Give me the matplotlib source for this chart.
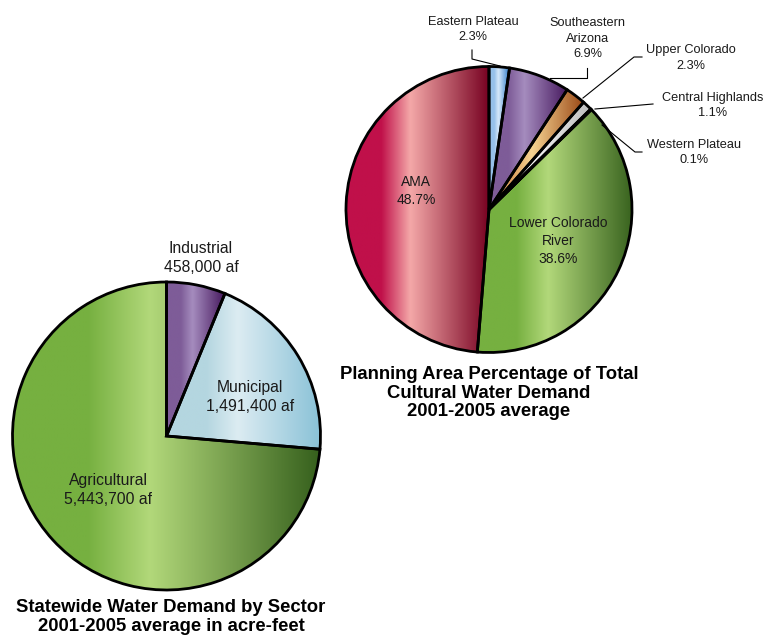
import numpy as np
import matplotlib
matplotlib.use('Agg')
import matplotlib.pyplot as plt
from matplotlib.colors import LinearSegmentedColormap

# statewide demand by sector (acre-feet), clockwise from top
sector_names = ['Industrial', 'Municipal', 'Agricultural']
sector_af = [458000, 1491400, 5443700]
sector_labels = ['Industrial\n458,000 af', 'Municipal\n1,491,400 af', 'Agricultural\n5,443,700 af']

# planning area share of total demand (%), clockwise from top
area_names = ['Eastern Plateau', 'Southeastern Arizona', 'Upper Colorado',
              'Central Highlands', 'Western Plateau', 'Lower Colorado River', 'AMA']
area_pct = [2.3, 6.9, 2.3, 1.1, 0.1, 38.6, 48.7]
area_labels = ['Eastern Plateau\n2.3%', 'Southeastern\nArizona\n6.9%', 'Upper Colorado\n2.3%',
               'Central Highlands\n1.1%', 'Western Plateau\n0.1%', 'Lower Colorado\nRiver\n38.6%',
               'AMA\n48.7%']

# gradient stops: base, highlight, dark
grad = {
    'green': ('#76b040', '#b2d87a', '#355f1c'),
    'purple': ('#7e5c98', '#a58cbe', '#46185e'),
    'lightblue': ('#b4d6e0', '#dcecf2', '#86c0d6'),
    'crimson': ('#c0104a', '#f4a8a8', '#760020'),
    'blue': ('#96c0ea', '#d6e8fa', '#2a78c8'),
    'orange': ('#dca060', '#f6d492', '#9a4816'),
    'gray': ('#d4d4d4', '#f2f2f2', '#bcbcbc'),
    'dark': ('#303030', '#505050', '#101010'),
}
sector_colors = ['purple', 'lightblue', 'green']
area_colors = ['blue', 'purple', 'orange', 'gray', 'dark', 'green', 'crimson']

W, H = 764, 637
fig = plt.figure(figsize=(W / 100, H / 100), dpi=100)
ax = fig.add_axes([0, 0, 1, 1])

def Y(y):
    return H - y

font = 'Liberation Sans'

def gradient_pie(values, center, radius, cols):
    wedges, _ = ax.pie(values, center=center, radius=radius, startangle=90,
                       counterclock=False, normalize=True,
                       wedgeprops=dict(edgecolor='black', linewidth=2.0, facecolor='none'),
                       frame=True)
    for w, c in zip(wedges, cols):
        base, light, dark = grad[c]
        cmap = LinearSegmentedColormap.from_list(
            c, [(0, base), (0.25, base), (0.45, light), (1.0, dark)])
        verts = w.get_patch_transform().transform(w.get_path().vertices)
        x0, x1 = verts[:, 0].min(), verts[:, 0].max()
        y0, y1 = verts[:, 1].min(), verts[:, 1].max()
        img = np.linspace(0, 1, 256)[None, :]
        im = ax.imshow(img, cmap=cmap, extent=(x0, x1, y0, y1), aspect='auto',
                       interpolation='bilinear', zorder=w.get_zorder() - 0.1)
        im.set_clip_path(w)
        w.set_zorder(w.get_zorder() + 1)
    return wedges

gradient_pie(sector_af, (166.5, Y(436)), 154, sector_colors)
gradient_pie(area_pct, (489, Y(209.5)), 143, area_colors)

ax.set_xlim(0, W)
ax.set_ylim(0, H)
ax.set_aspect('equal')
ax.axis('off')

# labels
lab_kw = dict(ha='center', va='center', family=font, color='#1a1a1a', zorder=10)
left_pos = [(201, 258), (250, 397), (108, 490)]
for t, (x, y) in zip(sector_labels, left_pos):
    ax.text(x, Y(y), t, fontsize=11.3, linespacing=1.3, **lab_kw)

outer_pos = [(473, 29.5), (587.5, 38.5), (691, 58), (713, 105.5), (694, 152.5)]
for t, (x, y) in zip(area_labels[:5], outer_pos):
    ax.text(x, Y(y), t, fontsize=9.2, linespacing=1.4, **lab_kw)

inner_pos = [(558, 241), (416, 191)]
for t, (x, y) in zip(area_labels[5:], inner_pos):
    ax.text(x, Y(y), t, fontsize=10, linespacing=1.4, **lab_kw)

# leader lines
leaders = [
    [(472, 50), (472, 59), (500, 66)],
    [(587, 68), (587, 78), (550, 78)],
    [(642, 57), (634, 57), (583, 98)],
    [(653, 104), (595, 109)],
    [(642, 152), (635, 152), (602, 125)],
]
for pts in leaders:
    xs = [p[0] for p in pts]
    ys = [Y(p[1]) for p in pts]
    ax.plot(xs, ys, color='black', lw=0.8, zorder=11)

title_kw = dict(ha='center', va='center', family=font, fontweight='bold',
                fontsize=13.3, color='black', linespacing=1.15)
ax.text(171, Y(617), 'Statewide Water Demand by Sector\n2001-2005 average in acre-feet', **title_kw)
ax.text(489, Y(393), 'Planning Area Percentage of Total\nCultural Water Demand\n2001-2005 average', **title_kw)

fig.savefig('out.png', dpi=100)
